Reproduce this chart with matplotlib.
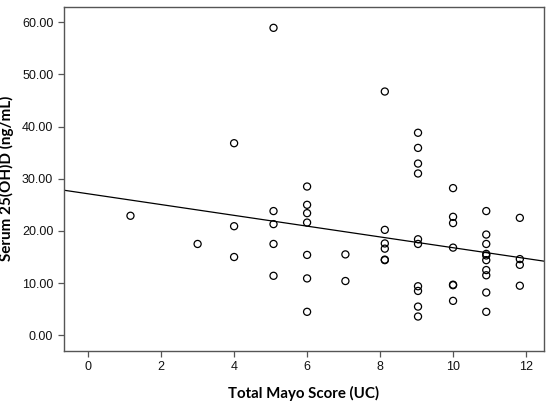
import numpy as np
import matplotlib
matplotlib.use("Agg")
import matplotlib.pyplot as plt

# Total Mayo score (x) and serum 25(OH)D (y), column by column
mayo = [1.16,
        3.0,
        4.0, 4.0, 4.0,
        5.08, 5.08, 5.08, 5.08, 5.08,
        6.0, 6.0, 6.0, 6.0, 6.0, 6.0, 6.0,
        7.05, 7.05,
        8.13, 8.13, 8.13, 8.13, 8.13, 8.13,
        9.04, 9.04, 9.04, 9.04, 9.04, 9.04, 9.04, 9.04, 9.04, 9.04,
        10.0, 10.0, 10.0, 10.0, 10.0, 10.0, 10.0,
        10.91, 10.91, 10.91, 10.91, 10.91, 10.91, 10.91, 10.91, 10.91, 10.91,
        11.83, 11.83, 11.83, 11.83]
vitd = [22.9,
        17.5,
        36.8, 20.9, 15.0,
        58.9, 23.8, 21.3, 17.5, 11.4,
        28.5, 25.0, 23.4, 21.6, 15.4, 10.9, 4.5,
        15.5, 10.4,
        46.7, 20.2, 17.6, 16.6, 14.4, 14.5,
        38.8, 35.9, 32.9, 31.0, 18.4, 17.5, 9.4, 8.5, 5.5, 3.6,
        28.2, 22.7, 21.5, 16.8, 9.6, 9.7, 6.6,
        23.8, 19.3, 17.5, 15.6, 15.3, 14.4, 12.5, 11.5, 8.2, 4.5,
        22.5, 14.6, 13.5, 9.5]

# fit line as drawn
fit_intercept = 27.11
fit_slope = -1.033

x_ticks = [0, 2, 4, 6, 8, 10, 12]
y_ticks = [0, 10, 20, 30, 40, 50, 60]

fig = plt.figure(figsize=(5.5, 4.01), dpi=100)
ax = fig.add_axes([0.1158, 0.1254, 0.8738, 0.8579])

ax.scatter(mayo, vitd, s=26, facecolors="none", edgecolors="black", linewidths=0.9, zorder=3)

xlim = (-0.67, 12.5)
xx = np.array(xlim)
ax.plot(xx, fit_intercept + fit_slope * xx, color="black", lw=0.9, zorder=2)

ax.set_xlim(*xlim)
ax.set_ylim(-2.95, 62.95)
ax.set_xticks(x_ticks)
ax.set_yticks(y_ticks)
ax.set_yticklabels(["%.2f" % v for v in y_ticks])

for s in ax.spines.values():
    s.set_color("#555555")
    s.set_linewidth(1.0)
ax.tick_params(direction="out", length=4, width=0.9, color="#555555",
               labelsize=9, labelcolor="#111111")
for lab in ax.get_xticklabels() + ax.get_yticklabels():
    lab.set_family("Liberation Sans")

ax.set_xlabel("Total Mayo Score (UC)", fontsize=10.8, fontweight="bold",
              family="Lato", labelpad=9)
ax.set_ylabel("Serum 25(OH)D (ng/mL)", fontsize=11, fontweight="bold",
              family="Lato", labelpad=6)

fig.savefig("out.png", dpi=100)
